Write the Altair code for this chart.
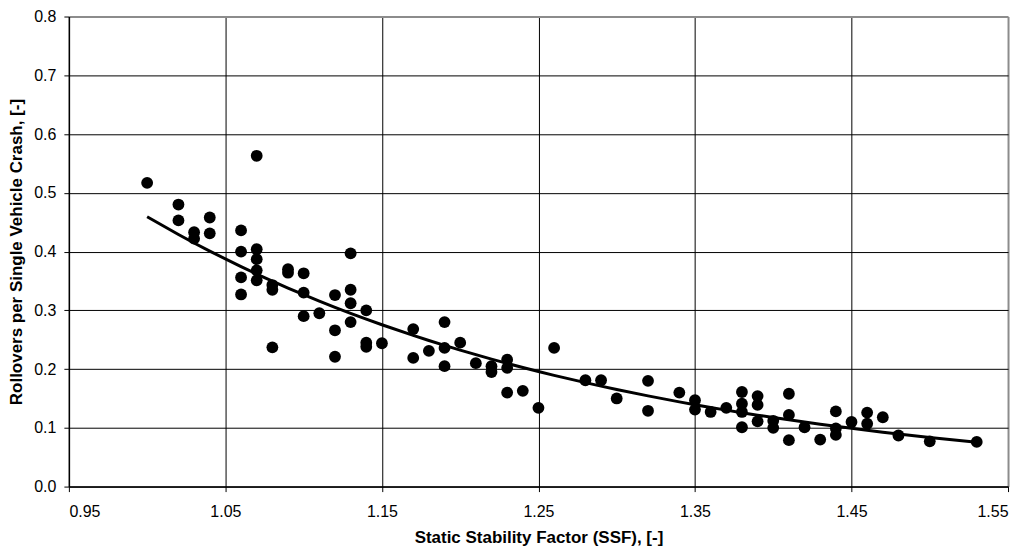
import altair as alt
import pandas as pd

ssf = [1.00, 1.02, 1.02, 1.03, 1.03, 1.04, 1.04,
       1.06, 1.06, 1.06, 1.06,
       1.07, 1.07, 1.07, 1.07, 1.07,
       1.08, 1.08, 1.08,
       1.09, 1.09,
       1.10, 1.10, 1.10,
       1.11,
       1.12, 1.12, 1.12,
       1.13, 1.13, 1.13, 1.13,
       1.14, 1.14, 1.14,
       1.15,
       1.17, 1.17,
       1.18,
       1.19, 1.19, 1.19,
       1.20, 1.21,
       1.22, 1.22,
       1.23, 1.23, 1.23,
       1.24, 1.25, 1.26, 1.28, 1.29, 1.30,
       1.32, 1.32, 1.34,
       1.35, 1.35, 1.36, 1.37,
       1.38, 1.38, 1.38, 1.38,
       1.39, 1.39, 1.39,
       1.40, 1.40,
       1.41, 1.41, 1.41,
       1.42, 1.43,
       1.44, 1.44, 1.44,
       1.45,
       1.46, 1.46,
       1.47, 1.48, 1.50, 1.53]

rate = [0.517, 0.480, 0.453, 0.433, 0.422, 0.458, 0.431,
        0.436, 0.400, 0.356, 0.327,
        0.563, 0.404, 0.387, 0.368, 0.351,
        0.343, 0.335, 0.237,
        0.370, 0.364,
        0.363, 0.330, 0.290,
        0.295,
        0.326, 0.266, 0.221,
        0.397, 0.335, 0.312, 0.280,
        0.300, 0.245, 0.238,
        0.244,
        0.268, 0.219,
        0.231,
        0.280, 0.236, 0.205,
        0.245, 0.210,
        0.205, 0.195,
        0.216, 0.202, 0.160,
        0.163, 0.134, 0.236, 0.181, 0.181, 0.150,
        0.180, 0.129, 0.160,
        0.147, 0.131, 0.127, 0.134,
        0.161, 0.141, 0.127, 0.101,
        0.154, 0.139, 0.111,
        0.112, 0.100,
        0.158, 0.122, 0.079,
        0.101, 0.080,
        0.128, 0.099, 0.088,
        0.110,
        0.126, 0.107,
        0.118, 0.087, 0.077, 0.076]

x_ticks = [0.95, 1.05, 1.15, 1.25, 1.35, 1.45, 1.55]
y_ticks = [0.0, 0.1, 0.2, 0.3, 0.4, 0.5, 0.6, 0.7, 0.8]

df = pd.DataFrame({"ssf": ssf, "rate": rate})

FONT = "Liberation Sans"

x_enc = alt.X(
    "ssf:Q",
    scale=alt.Scale(domain=[0.95, 1.55], nice=False, zero=False),
    axis=alt.Axis(
        values=x_ticks, format=".2f",
        title="Static Stability Factor (SSF), [-]",
        gridColor={"condition": {"test": "datum.value > 1.54", "value": "#8c8c8c"}, "value": "#000000"},
        gridWidth={"condition": {"test": "datum.value > 1.54", "value": 2}, "value": 1},
        labelPadding=12, titlePadding=10,
    ),
)
y_axis = alt.Axis(
    values=y_ticks, format=".1f",
    title="Rollovers per Single Vehicle Crash, [-]",
    gridColor={"condition": {"test": "datum.value > 0.79", "value": "#8c8c8c"}, "value": "#000000"},
    gridWidth={"condition": {"test": "datum.value > 0.79", "value": 2}, "value": 1},
    labelPadding=8, titlePadding=8,
)
y_scale = alt.Scale(domain=[0, 0.8], nice=False)

points = alt.Chart(df).mark_circle(size=140, color="#000000", opacity=1).encode(
    x=x_enc, y=alt.Y("rate:Q", scale=y_scale, axis=y_axis)
)

# exponential trendline: least squares on ln(rate), computed by Vega-Lite transforms
trend = alt.Chart(df).transform_calculate(
    lr="log(datum.rate)",
    xl="datum.ssf * log(datum.rate)",
    xx="datum.ssf * datum.ssf",
).transform_joinaggregate(
    mx="mean(ssf)", my="mean(lr)", mxy="mean(xl)", mxx="mean(xx)"
).transform_calculate(
    b="(datum.mxy - datum.mx * datum.my) / (datum.mxx - datum.mx * datum.mx)"
).transform_calculate(
    fit="exp(datum.my + datum.b * (datum.ssf - datum.mx))"
).mark_line(color="#000000", strokeWidth=3).encode(
    x=x_enc, y=alt.Y("fit:Q", scale=y_scale, axis=y_axis)
)

chart = alt.layer(points, trend).properties(
    width=941, height=471,
    autosize=alt.AutoSizeParams(type="none"),
    padding={"left": 61, "top": 8, "right": 15, "bottom": 66},
).configure_view(
    stroke=None
).configure_axis(
    labelFont=FONT, labelFontSize=16, labelColor="#000000",
    titleFont=FONT, titleFontSize=17, titleFontWeight="bold", titleColor="#000000",
    domainColor="#000000", domainWidth=1.5,
    tickColor="#000000", tickSize=5, tickWidth=1,
    gridOpacity=1,
)

chart.save("out.html", embed_options={"renderer": "svg", "actions": False})
